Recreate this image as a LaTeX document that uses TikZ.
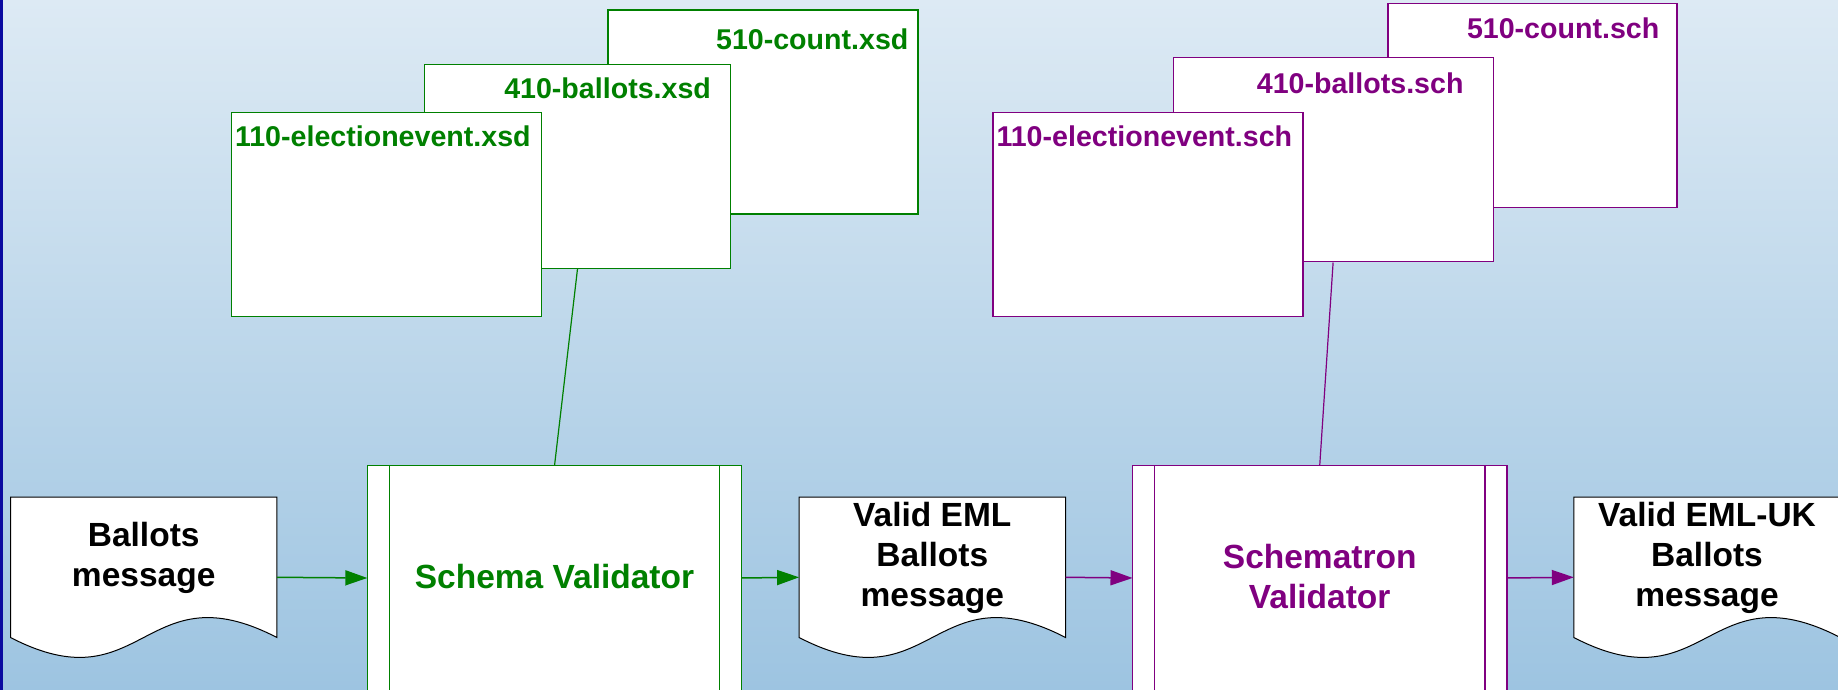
\documentclass[tikz,border=0pt]{standalone}
\usepackage{fontspec}
\setmainfont{Liberation Sans}
\usetikzlibrary{arrows.meta}
\definecolor{xsdgreen}{RGB}{0,128,0}
\definecolor{schpurple}{RGB}{128,0,128}
\definecolor{bgtop}{RGB}{221,234,244}
\definecolor{bgbottom}{RGB}{157,196,225}
\definecolor{edgeblue}{RGB}{10,10,160}
\pgfdeclarelayer{back}
\pgfsetlayers{back,main}

\begin{document}
\begin{tikzpicture}[x=1pt,y=1pt]

\tikzstyle{msg}=[rectangle,inner sep=0pt,minimum width=266pt,minimum height=160pt,align=center,text depth=45pt,font=\fontsize{33.5}{40}\selectfont\bfseries]
\tikzstyle{validator}=[rectangle,fill=white,inner sep=0pt,minimum width=374pt,minimum height=224pt,align=center,text depth=3pt,font=\fontsize{33.5}{40}\selectfont\bfseries]
\tikzstyle{filebox}=[rectangle,draw,fill=white,line width=1.2pt,inner sep=0pt,minimum height=204pt]
\tikzstyle{filename}=[inner sep=0pt,font=\fontsize{28.6}{34}\selectfont\bfseries]
\tikzstyle{flow}=[line width=1.5pt,-{Triangle[length=22pt,width=15pt]}]

\useasboundingbox (0,0) rectangle (1838,690);
\begin{pgfonlayer}{back}
\shade[top color=bgtop,bottom color=bgbottom] (0,0) rectangle (1838,690);
\end{pgfonlayer}
\fill[edgeblue] (0,0) rectangle (2.5,690);

\draw (763,578) node [filebox,draw=xsdgreen,minimum width=310pt] (xcount) {};
\draw ([xshift=-10pt,yshift=-40pt]xcount.north east) node [filename,anchor=base east,text=xsdgreen] (xcountname) {510-count.xsd};
\draw (577.5,523.7) node [filebox,draw=xsdgreen,minimum width=306pt] (xballots) {};
\draw ([xshift=-20pt,yshift=-35pt]xballots.north east) node [filename,anchor=base east,text=xsdgreen] (xballotsname) {410-ballots.xsd};
\draw (386.4,475.8) node [filebox,draw=xsdgreen,minimum width=310pt] (xelect) {};
\draw ([xshift=4pt,yshift=-35pt]xelect.north west) node [filename,anchor=base west,text=xsdgreen] (xelectname) {110-electionevent.xsd};

\draw (1532.4,584.7) node [filebox,draw=schpurple,minimum width=289pt] (scount) {};
\draw ([xshift=-18pt,yshift=-36pt]scount.north east) node [filename,anchor=base east,text=schpurple] (scountname) {510-count.sch};
\draw (1333.1,530.1) node [filebox,draw=schpurple,minimum width=320pt] (sballots) {};
\draw ([xshift=-30pt,yshift=-36pt]sballots.north east) node [filename,anchor=base east,text=schpurple] (sballotsname) {410-ballots.sch};
\draw (1147.9,475.8) node [filebox,draw=schpurple,minimum width=310pt] (select) {};
\draw ([xshift=4pt,yshift=-35pt]select.north west) node [filename,anchor=base west,text=schpurple] (selectname) {110-electionevent.sch};

\draw (143.7,112.7) node [msg] (ballots) {Ballots\\message};
\draw (932.3,112.7) node [msg] (validEML) {Valid EML\\Ballots\\message};
\draw (1707,112.7) node [msg] (validUK) {Valid EML-UK\\Ballots\\message};

\begin{pgfonlayer}{back}
\foreach \m in {ballots,validEML,validUK}
  \draw[fill=white,line width=1pt] (\m.north west) -- (\m.north east) -- ([yshift=20pt]\m.south east)
    .. controls ([yshift=89pt]\m.south) and ([yshift=-49pt]\m.south) .. ([yshift=20pt]\m.south west) -- cycle;
\end{pgfonlayer}

\draw (554.5,112) node [validator,text=xsdgreen] (schema) {Schema Validator};
\draw (1319.7,112) node [validator,text=schpurple] (schematron) {Schematron\\Validator};
\foreach \v/\c in {schema/xsdgreen,schematron/schpurple} {
  \draw[\c,line width=1.2pt] (\v.south west) -- (\v.north west) -- (\v.north east) -- (\v.south east);
  \draw[\c,line width=1.2pt] ([xshift=22pt]\v.south west) -- ([xshift=22pt]\v.north west);
  \draw[\c,line width=1.2pt] ([xshift=-22pt]\v.south east) -- ([xshift=-22pt]\v.north east);
}

\draw[xsdgreen,line width=1.2pt] (xballots.south) -- (schema.north);
\draw[schpurple,line width=1.2pt] (sballots.south) -- (schematron.north);

\draw[flow,xsdgreen] (ballots.east) -- (schema.west);
\draw[flow,xsdgreen] (schema.east) -- (validEML.west);
\draw[flow,schpurple] (validEML.east) -- (schematron.west);
\draw[flow,schpurple] (schematron.east) -- (validUK.west);

\end{tikzpicture}
\end{document}
